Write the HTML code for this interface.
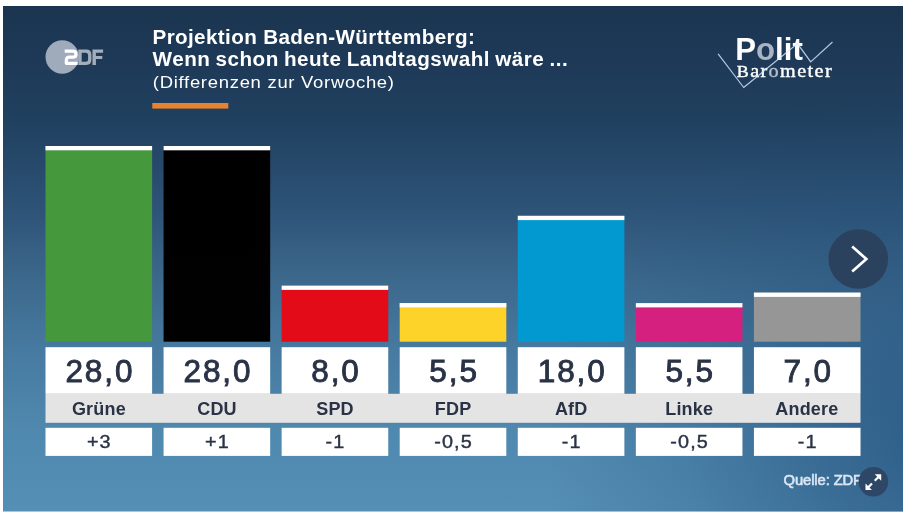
<!DOCTYPE html>
<html lang="de">
<head>
<meta charset="utf-8">
<title>Politbarometer Projektion Baden-Württemberg</title>
<style>
  html, body { margin: 0; padding: 0; background: #ffffff; }
  body { width: 908px; height: 517px; overflow: hidden; position: relative;
         font-family: "Liberation Sans", sans-serif; }
  svg { position: absolute; left: 0; top: 0; display: block; will-change: transform; opacity: 0.9999; }
  text { font-family: "Liberation Sans", sans-serif; }
  .serif { font-family: "Liberation Serif", serif; }
</style>
</head>
<body>
<svg width="908" height="517" viewBox="0 0 908 517">
  <defs>
    <linearGradient id="bgv" x1="0" y1="0" x2="0" y2="1">
      <stop offset="0" stop-color="#1b3550"/>
      <stop offset="0.12" stop-color="#1e3a58"/>
      <stop offset="0.225" stop-color="#20405f"/>
      <stop offset="0.40" stop-color="#2d5377"/>
      <stop offset="0.54" stop-color="#3c688c"/>
      <stop offset="0.68" stop-color="#477aa0"/>
      <stop offset="0.85" stop-color="#5089af"/>
      <stop offset="1" stop-color="#558fb5"/>
    </linearGradient>
    <radialGradient id="bgr" gradientUnits="userSpaceOnUse" cx="945" cy="440" r="400" gradientTransform="translate(945 440) scale(1 0.9) translate(-945 -440)">
      <stop offset="0" stop-color="#1f4b77" stop-opacity="0.72"/>
      <stop offset="0.3" stop-color="#1f4b77" stop-opacity="0.5"/>
      <stop offset="0.65" stop-color="#1f4b77" stop-opacity="0.2"/>
      <stop offset="1" stop-color="#1f4b77" stop-opacity="0"/>
    </radialGradient>
  </defs>

  <!-- background -->
  <rect x="3" y="6" width="900" height="505.5" fill="url(#bgv)"/>
  <rect x="3" y="6" width="900" height="505.5" fill="url(#bgr)"/>

  <!-- ZDF logo -->
  <g id="zdf">
    <circle cx="62.2" cy="57" r="16.7" fill="#9faaba"/>
    <path d="M64.7,51.1 H72.9 Q76,51.1 76,54.15 Q76,57.2 72.9,57.2 H69.4 Q66.3,57.2 66.3,60.3 V63.3 H77.6" fill="none" stroke="#ffffff" stroke-width="3.2" stroke-linejoin="round"/>
    <path fill-rule="evenodd" fill="#a3aebc" d="M78.3,49.5 H86.2 Q91.4,49.5 91.4,54.7 V59.7 Q91.4,64.9 86.2,64.9 H78.3 Z M81.7,52.7 H85.6 Q88.1,52.7 88.1,55.2 V59.2 Q88.1,61.7 85.6,61.7 H81.7 Z"/>
    <path fill="#a3aebc" d="M92.5,49.5 H103.1 V52.7 H95.9 V56 H102.3 V59 H95.9 V64.9 H92.5 Z"/>
  </g>

  <!-- title -->
  <text transform="translate(152.5 43.5) scale(1.07 1)" font-size="19.3" font-weight="bold" fill="#ffffff" letter-spacing="0.35">Projektion Baden-Württemberg:</text>
  <text transform="translate(152.6 66.2) scale(1.07 1)" font-size="19.3" font-weight="bold" fill="#ffffff" letter-spacing="0.45" word-spacing="-0.9">Wenn schon heute Landtagswahl wäre ...</text>
  <text transform="translate(152.8 87.6) scale(1.1 1)" font-size="16.8" fill="#ffffff" letter-spacing="0.65">(Differenzen zur Vorwoche)</text>
  <rect x="152.3" y="103" width="76" height="5.6" fill="#e8822e"/>

  <!-- Politbarometer logo -->
  <g id="polit">
    <polyline points="718.1,53.8 743.7,87.5 797.5,43.6 810.7,61.9 832.5,42" fill="none" stroke="#b2c9e2" stroke-width="1.2"/>
    <text x="735.2" y="59.7" font-size="31.2" font-weight="bold" fill="#ffffff">P<tspan fill="#a9b4c4">o</tspan>lit</text>
    <g transform="translate(736.8 76.8) scale(1.12 1)">
      <text class="serif" x="0" y="0" font-size="18" fill="#ffffff" stroke="#ffffff" stroke-width="0.4" letter-spacing="1.25"><tspan font-size="16">B</tspan>ar<tspan fill="#b4bfce" stroke="#b4bfce">o</tspan>meter</text>
    </g>
    <polyline points="743.7,87.5 797.5,43.6 810.7,61.9" fill="none" stroke="#b2c9e2" stroke-width="1.2" opacity="0.35"/>
  </g>

  <!-- bars -->
  <g id="bars">
    <rect x="45.5" y="146"   width="106.6" height="195.7" fill="#46983d"/>
    <rect x="45.5" y="146"   width="106.6" height="4.3" fill="#ffffff"/>
    <rect x="163.57" y="146"   width="106.6" height="195.7" fill="#000000"/>
    <rect x="163.57" y="146"   width="106.6" height="4.3" fill="#ffffff"/>
    <rect x="281.64" y="285.6" width="106.6" height="56.1" fill="#e30b17"/>
    <rect x="281.64" y="285.6" width="106.6" height="4.3" fill="#ffffff"/>
    <rect x="399.71" y="303.1" width="106.6" height="38.6" fill="#fdd32a"/>
    <rect x="399.71" y="303.1" width="106.6" height="4.3" fill="#ffffff"/>
    <rect x="517.78" y="215.8" width="106.6" height="125.9" fill="#0299d1"/>
    <rect x="517.78" y="215.8" width="106.6" height="4.3" fill="#ffffff"/>
    <rect x="635.85" y="303.1" width="106.6" height="38.6" fill="#d6207f"/>
    <rect x="635.85" y="303.1" width="106.6" height="4.3" fill="#ffffff"/>
    <rect x="753.92" y="292.6" width="106.6" height="49.1" fill="#969696"/>
    <rect x="753.92" y="292.6" width="106.6" height="4.3" fill="#ffffff"/>
  </g>

  <!-- value boxes, label strip, diff boxes -->
  <g id="boxes">
    <rect x="45.5" y="393.8" width="815" height="29" fill="#e4e4e4"/>
    <g fill="#ffffff">
      <rect x="45.5" y="347.2" width="106.6" height="46.6"/>
      <rect x="163.57" y="347.2" width="106.6" height="46.6"/>
      <rect x="281.64" y="347.2" width="106.6" height="46.6"/>
      <rect x="399.71" y="347.2" width="106.6" height="46.6"/>
      <rect x="517.78" y="347.2" width="106.6" height="46.6"/>
      <rect x="635.85" y="347.2" width="106.6" height="46.6"/>
      <rect x="753.92" y="347.2" width="106.6" height="46.6"/>
      <rect x="45.5" y="427.8" width="106.6" height="28.1"/>
      <rect x="163.57" y="427.8" width="106.6" height="28.1"/>
      <rect x="281.64" y="427.8" width="106.6" height="28.1"/>
      <rect x="399.71" y="427.8" width="106.6" height="28.1"/>
      <rect x="517.78" y="427.8" width="106.6" height="28.1"/>
      <rect x="635.85" y="427.8" width="106.6" height="28.1"/>
      <rect x="753.92" y="427.8" width="106.6" height="28.1"/>
    </g>
  </g>

  <!-- values -->
  <g id="values" font-size="31.5" fill="#2a3346" stroke="#2a3346" stroke-width="0.9" text-anchor="middle" letter-spacing="1.9">
    <text x="99.9" y="381.9">28,0</text>
    <text x="218.0" y="381.9">28,0</text>
    <text x="336.0" y="381.9">8,0</text>
    <text x="454.1" y="381.9">5,5</text>
    <text x="572.2" y="381.9">18,0</text>
    <text x="690.2" y="381.9">5,5</text>
    <text x="808.3" y="381.9">7,0</text>
  </g>

  <!-- party labels -->
  <g id="labels" font-size="18" font-weight="bold" fill="#2a3346" text-anchor="middle" letter-spacing="0.2">
    <text x="98.9" y="414.5">Grüne</text>
    <text x="217.0" y="414.5">CDU</text>
    <text x="335.0" y="414.5">SPD</text>
    <text x="453.1" y="414.5">FDP</text>
    <text x="571.2" y="414.5">AfD</text>
    <text x="689.2" y="414.5">Linke</text>
    <text x="806.9" y="414.5">Andere</text>
  </g>

  <!-- diffs -->
  <g id="diffs" font-size="18" fill="#2a3346" stroke="#2a3346" stroke-width="0.4" text-anchor="middle" letter-spacing="1.0">
    <text transform="translate(99.3 448.2) scale(1.1 1)" x="0" y="0">+3</text>
    <text transform="translate(217.4 448.2) scale(1.1 1)" x="0" y="0">+1</text>
    <text transform="translate(335.4 448.2) scale(1.1 1)" x="0" y="0">-1</text>
    <text transform="translate(453.5 448.2) scale(1.1 1)" x="0" y="0">-0,5</text>
    <text transform="translate(571.6 448.2) scale(1.1 1)" x="0" y="0">-1</text>
    <text transform="translate(689.6 448.2) scale(1.1 1)" x="0" y="0">-0,5</text>
    <text transform="translate(807.7 448.2) scale(1.1 1)" x="0" y="0">-1</text>
  </g>

  <!-- source -->
  <text x="783.6" y="485" font-size="14.8" fill="#dbe7f4" stroke="#dbe7f4" stroke-width="0.6" letter-spacing="-0.12">Quelle: ZDF</text>

  <!-- next button -->
  <g id="next">
    <circle cx="858.3" cy="259" r="29.8" fill="#2b425f"/>
    <polyline points="852.2,246.6 866.3,259 852.2,271.4" fill="none" stroke="#ffffff" stroke-width="2.7" stroke-linecap="butt" stroke-linejoin="miter"/>
  </g>

  <!-- expand button -->
  <g id="expand">
    <circle cx="873.4" cy="481.7" r="14.8" fill="#2e4766"/>
    <g fill="#ffffff" stroke="#ffffff" stroke-width="2.2" stroke-linecap="butt">
      <polygon stroke="none" points="881.2,474.3 874.8,474.3 881.2,480.7"/>
      <line x1="878.8" y1="476.7" x2="874.7" y2="480.8"/>
      <polygon stroke="none" points="865.5,490 871.9,490 865.5,483.6"/>
      <line x1="867.9" y1="487.6" x2="872" y2="483.5"/>
    </g>
  </g>
</svg>
</body>
</html>
